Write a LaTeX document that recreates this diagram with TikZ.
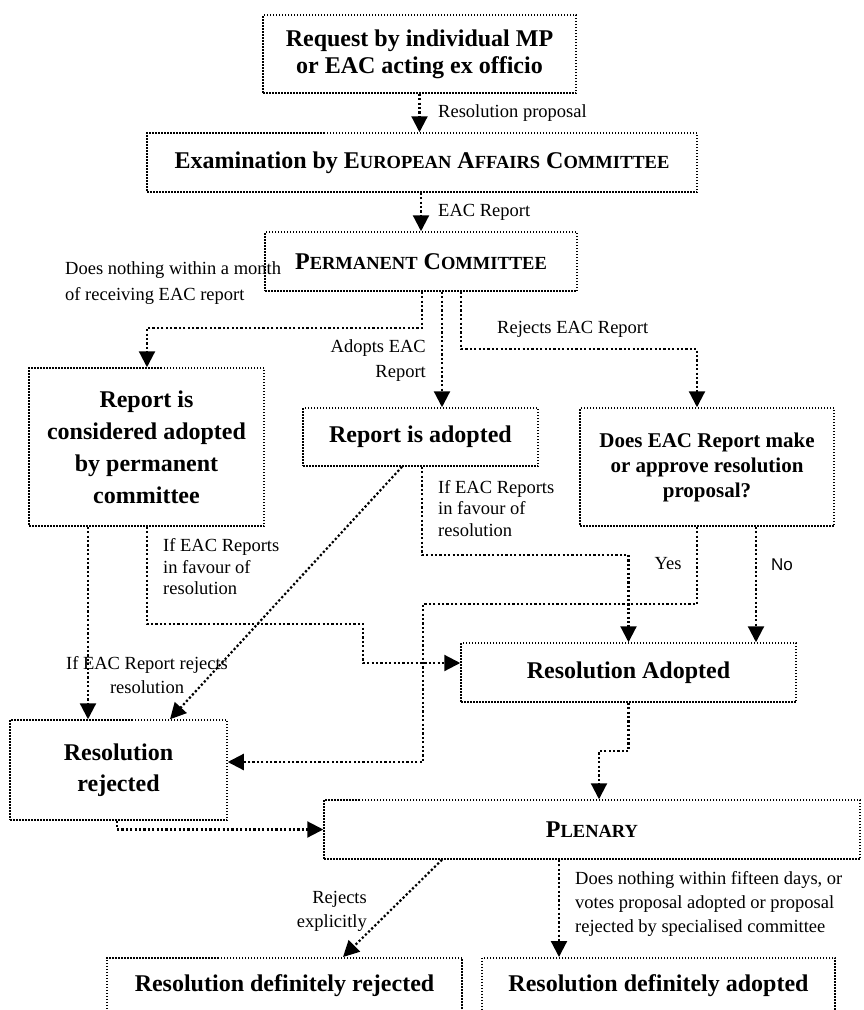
\documentclass[tikz,border=0pt]{standalone}
\usepackage{fontspec}
\setmainfont{Liberation Serif}
\newfontfamily\sansfam{Liberation Sans}
\usetikzlibrary{arrows.meta}
\newcommand\smcp[1]{{\fontsize{18.5}{20}\selectfont #1}}
\begin{document}
\begin{tikzpicture}[x=1pt,y=-1pt,
 box/.style={draw, line width=1.5pt, dash pattern=on 1.5pt off 1.5pt, inner sep=0pt, align=center, font=\fontsize{24}{28}\selectfont\bfseries},
 conn/.style={line width=2.2pt, dash pattern=on 2.2pt off 2.2pt, -{Triangle[width=16pt,length=16pt]}},
 lbl/.style={inner sep=0pt, font=\fontsize{18.5}{24}\selectfont}]
\useasboundingbox[fill=white] (0,0) rectangle (863,1010);

% boxes
\node[box, minimum width=313, minimum height=78, font=\fontsize{24}{27}\selectfont\bfseries] (req) at (419.5,54) {Request by individual MP\\or EAC acting ex officio};
\node[box, minimum width=550, minimum height=59] (exam) at (422,162.5) {Examination by E\smcp{UROPEAN} A\smcp{FFAIRS} C\smcp{OMMITTEE}};
\node[box, minimum width=312, minimum height=59] (perm) at (421,261.5) {P\smcp{ERMANENT} C\smcp{OMMITTEE}};
\node[box, minimum width=235, minimum height=158, font=\fontsize{24}{32}\selectfont\bfseries] (cons) at (146.5,447) {Report is\\considered adopted\\by permanent\\committee};
\node[box, minimum width=235, minimum height=58] (adopt) at (420.5,437) {Report is adopted};
\node[box, minimum width=254, minimum height=118, font=\fontsize{21}{25}\selectfont\bfseries] (does) at (707,467) {Does EAC Report make\\or approve resolution\\proposal?};
\node[box, minimum width=335, minimum height=59] (resad) at (628.5,672.5) {Resolution Adopted};
\node[box, minimum width=217, minimum height=100, font=\fontsize{24}{31}\selectfont\bfseries] (resrej) at (118.5,770) {Resolution\\rejected};
\node[box, minimum width=536, minimum height=59] (plen) at (592,829.5) {P\smcp{LENARY}};
\node[box, minimum width=355, minimum height=56, anchor=north] (defrej) at (284.5,957) {Resolution definitely rejected};
\node[box, minimum width=353, minimum height=56, anchor=north] (defad) at (658.5,957) {Resolution definitely adopted};

% connectors
\draw[conn] (req.south) -- (req.south |- exam.north);
\draw[conn] (exam.south -| perm.north) -- (perm.north);
\draw[conn] (422,0 |- perm.south) |- (147,328) -- (147,0 |- cons.north);
\draw[conn] (442,0 |- perm.south) -- (442,0 |- adopt.north);
\draw[conn] (461,0 |- perm.south) |- (697,349) -- (697,0 |- does.north);
\draw[conn] (402,0 |- adopt.south) -- (170,0 |- resrej.north);
\draw[conn] (422,0 |- adopt.south) |- (628.5,555) -- (resad.north);
\draw[conn] (697,0 |- does.south) |- (423,604) |- (resrej.east |- 0,762);
\draw[conn] (756,0 |- does.south) -- (756,0 |- resad.north);
\draw[conn] (88,0 |- cons.south) -- (88,0 |- resrej.north);
\draw[conn] (147,0 |- cons.south) |- (363,624) |- (resad.west |- 0,663);
\draw[conn] (resad.south) |- (599,751) -- (599,0 |- plen.north);
\draw[conn] (117,0 |- resrej.south) |- (plen.west);
\draw[conn] (442,0 |- plen.south) -- (343,0 |- defrej.north);
\draw[conn] (559,0 |- plen.south) -- (559,0 |- defad.north);

% labels
\node[lbl, anchor=west] (l1) at (438,113) {Resolution proposal};
\node[lbl, anchor=west] (l2) at (438,212) {EAC Report};
\node[lbl, anchor=west, align=left, font=\fontsize{18.5}{26}\selectfont] (l3) at (65,283) {Does nothing within a month\\of receiving EAC report};
\node[lbl, anchor=east, align=right, font=\fontsize{18.5}{25}\selectfont] (l4) at (426,360.5) {Adopts EAC\\Report};
\node[lbl, anchor=west] (l5) at (497,329) {Rejects EAC Report};
\node[lbl, anchor=west, align=left, font=\fontsize{18.5}{21.5}\selectfont] (l6) at (438,508.5) {If EAC Reports\\in favour of\\resolution};
\node[lbl] (l7) at (668,564) {Yes};
\node[lbl, font=\sansfam\fontsize{17}{20}\selectfont] (l8) at (782,565) {No};
\node[lbl, anchor=west, align=left, font=\fontsize{18.5}{21.5}\selectfont] (l9) at (163,567) {If EAC Reports\\in favour of\\resolution};
\node[lbl, align=center] (l10) at (147,675) {If EAC Report rejects\\resolution};
\node[lbl, anchor=east, align=right] (l11) at (367,911) {Rejects\\explicitly};
\node[lbl, anchor=west, align=left] (l12) at (575,904) {Does nothing within fifteen days, or\\votes proposal adopted or proposal\\rejected by specialised committee};
\end{tikzpicture}
\end{document}
